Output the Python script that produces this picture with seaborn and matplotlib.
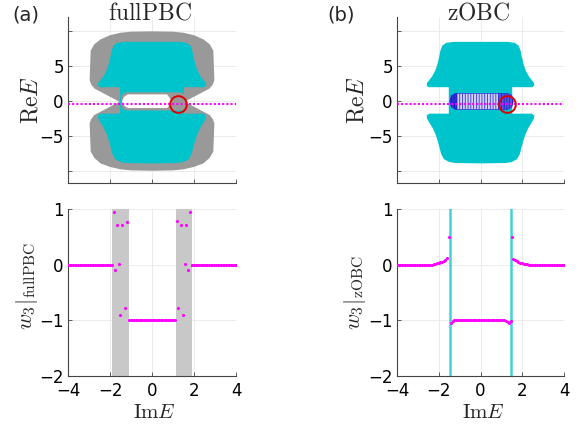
import numpy as np
import matplotlib
matplotlib.use("Agg")
import matplotlib.pyplot as plt
import seaborn as sns

# ---------------- data ----------------
# grey PBC spectral region, right half outline (top centre -> bottom centre)
pbc_im = [0.0, 1.0, 1.5, 2.0, 2.45, 2.75, 2.92, 2.97, 2.9, 2.75, 1.55,
          2.75, 2.9, 2.97, 2.92, 2.75, 2.45, 2.0, 1.5, 1.0, 0.0]
pbc_re = [9.95, 9.9, 9.75, 9.4, 8.8, 8.1, 7.2, 3.0, 2.4, 1.8, -0.1,
          -2.0, -2.6, -3.2, -7.2, -8.1, -8.9, -9.4, -9.75, -9.9, -9.95]
# cyan zOBC spectral region, right half outline
obc_im = [0.0, 1.3, 1.65, 1.83, 1.92, 1.98, 2.06, 2.16, 2.3, 2.45, 2.56, 2.58, 2.5, 1.52,
          1.52, 2.45, 2.58, 2.56, 2.45, 2.3, 2.16, 2.05, 1.96, 1.88, 1.75, 1.5, 1.2, 0.0]
obc_re = [8.45, 8.45, 8.3, 7.9, 7.2, 6.3, 5.3, 4.4, 3.6, 3.0, 2.6, 2.25, 1.98, 1.98,
          -1.8, -1.8, -2.05, -2.5, -3.1, -3.8, -4.7, -5.7, -6.7, -7.6, -8.3, -8.7, -8.85, -8.9]
# grey band around the central hole (panel a)
band_im = [-1.2, 1.35, 1.58, 1.67, 1.67, 1.58, 1.35, -1.2, -1.4, -1.46, -1.46, -1.4]
band_re = [1.25, 1.25, 1.0, 0.5, -0.8, -1.15, -1.35, -1.35, -1.1, -0.5, 0.4, 1.0]
# white hole (panel a)
hole_im = [-1.15, 0.72, 0.96, 0.72, -1.15, -1.33, -1.43, -1.33]
hole_re = [0.95, 0.95, -0.05, -1.0, -1.0, -0.65, -0.05, 0.6]
# blue hatched oval (panel b) and its darker caps
oval_im = [-1.2, 1.3, 1.5, 1.57, 1.5, 1.3, -1.2, -1.4, -1.47, -1.4]
oval_re = [1.1, 1.1, 0.8, -0.05, -0.85, -1.2, -1.2, -0.85, -0.05, 0.75]
capl_im = [-1.12, -1.2, -1.4, -1.47, -1.4, -1.2, -1.12]
capl_re = [1.1, 1.1, 0.75, -0.05, -0.85, -1.2, -1.2]
capr_im = [0.85, 1.3, 1.5, 1.57, 1.5, 1.3, 0.85]
capr_re = [1.1, 1.1, 0.8, -0.05, -0.85, -1.2, -1.2]

cut_re = -0.4                 # magenta dotted cut
circle_im, circle_re = 1.25, -0.4

# winding number, fullPBC
a_zero_l_im = np.linspace(-4.0, -2.0, 26)
a_zero_r_im = np.linspace(1.92, 4.0, 27)
a_mid_im = np.linspace(-1.1, 1.08, 28)
a_scat_im = [-1.907, -1.827, -1.747, -1.667, -1.587, -1.507, -1.426, -1.266, -1.202,
             1.17, 1.25, 1.39, 1.49, 1.57, 1.63, 1.73, 1.83, 1.89]
a_scat_w = [-0.01, 0.946, -0.09, 0.713, 0.018, -0.91, 0.713, -0.78, 0.772,
            0.778, -0.78, 0.713, -0.91, 0.018, 0.713, -0.09, 0.946, 0.0]
a_bands = [(-1.9, -1.1), (1.12, 1.89)]

# winding number, zOBC
b_zero_l_im = np.linspace(-4.0, -2.32, 22)
b_zero_r_im = np.linspace(2.3, 4.0, 22)
b_mid_im = np.linspace(-1.26, 1.14, 31)
b_edge_im = [-2.24, -2.16, -2.08, -2.0, -1.92, -1.84, -1.76, -1.68, -1.6, -1.5,
             -1.42, -1.34, 1.22, 1.30, 1.38, 1.46,
             1.5, 1.58, 1.66, 1.74, 1.82, 1.9, 1.98, 2.06, 2.14, 2.22]
b_edge_w = [0.01, 0.015, 0.025, 0.03, 0.04, 0.055, 0.07, 0.09, 0.12, 0.5,
            -1.04, -1.015, -1.02, -1.035, -1.05, -1.02,
            0.5, 0.11, 0.08, 0.06, 0.045, 0.035, 0.025, 0.02, 0.012, 0.008]
b_lines = [-1.47, 1.47]

# ---------------- style ----------------
sns.set_theme(style="ticks")
plt.rcParams["font.family"] = ["DejaVu Sans"]
plt.rcParams["mathtext.fontset"] = "cm"
plt.rcParams["hatch.linewidth"] = 0.6

GREY = "#999999"
CYAN = "#00C4CC"
MAG = "#ff00ff"
TICK = 12

fig = plt.figure(figsize=(5.8, 4.24), dpi=100)
W, H = 580, 424


def add_ax(left, top, right, bottom):
    return fig.add_axes([left / W, 1 - bottom / H, (right - left) / W, (bottom - top) / H])


ax_a = add_ax(68, 17, 236, 183)
ax_b = add_ax(397, 17, 564, 183)
ax_c = add_ax(68, 209, 236, 376)
ax_d = add_ax(397, 209, 564, 376)


def mirror(xs, ys):
    xs = np.asarray(xs, float)
    ys = np.asarray(ys, float)
    return np.concatenate([xs, -xs[::-1]]), np.concatenate([ys, ys[::-1]])


pbc_x, pbc_y = mirror(pbc_im, pbc_re)
obc_x, obc_y = mirror(obc_im, obc_re)


def style_ax(ax, top):
    ax.set_xlim(-4, 4)
    ax.set_xticks([-4, -2, 0, 2, 4])
    if top:
        ax.set_ylim(-11.7, 12)
        ax.set_yticks([-10, -5, 0, 5, 10])
        ax.set_yticklabels(["", "\u22125", "0", "5", ""])
        ax.set_xticklabels([])
    else:
        ax.set_ylim(-2, 1)
        ax.set_yticks([-2, -1, 0, 1])
        ax.set_yticklabels(["\u22122", "\u22121", "0", "1"])
        ax.set_xticklabels(["\u22124", "\u22122", "0", "2", "4"])
    ax.grid(True, color="#e8e8e8", lw=0.6)
    ax.set_axisbelow(True)
    for s in ["top", "right"]:
        ax.spines[s].set_visible(False)
    for s in ["left", "bottom"]:
        ax.spines[s].set_color("#444444")
        ax.spines[s].set_linewidth(0.8)
    ax.tick_params(direction="in", length=3, width=0.6, labelsize=TICK,
                   colors="#444444", labelcolor="black", pad=3)
    ax.tick_params(axis="x", pad=4)


# panel (a) top
ax_a.fill(pbc_x, pbc_y, color=GREY, lw=0, zorder=1)
ax_a.fill(obc_x, obc_y, color=CYAN, lw=0, zorder=2)
ax_a.fill(band_im, band_re, color=GREY, lw=0, zorder=3)
ax_a.fill(hole_im, hole_re, color="white", lw=0, zorder=4)

# panel (b) top
ax_b.fill(obc_x, obc_y, color=CYAN, lw=0, zorder=2)
ax_b.fill(oval_im, oval_re, facecolor="#d4d4f6", edgecolor="#3030dd",
          hatch="||||||", lw=0.5, zorder=3)
ax_b.fill(capl_im, capl_re, color="#1414cc", alpha=0.85, lw=0, zorder=4)
ax_b.fill(capr_im, capr_re, color="#1414cc", alpha=0.65, lw=0, zorder=4)

for ax in (ax_a, ax_b):
    ax.axhline(cut_re, color=MAG, lw=1.5, ls=(0, (1, 1)), zorder=5)
    ax.plot([circle_im], [circle_re], marker="o", ms=12, mfc="none",
            mec="#e00000", mew=1.4, zorder=6)
    style_ax(ax, True)

# panel (a) bottom
for lo, hi in a_bands:
    ax_c.axvspan(lo, hi, color="#c8c8c8", lw=0, zorder=1)
a_im = np.concatenate([a_zero_l_im, a_scat_im, a_mid_im, a_zero_r_im])
a_w = np.concatenate([np.zeros_like(a_zero_l_im), a_scat_w,
                      -np.ones_like(a_mid_im), np.zeros_like(a_zero_r_im)])
sns.scatterplot(x=a_im, y=a_w, ax=ax_c, color=MAG, s=5, linewidth=0, zorder=3)
style_ax(ax_c, False)

# panel (b) bottom
for xv in b_lines:
    ax_d.axvline(xv, color=CYAN, lw=1.8, alpha=0.75, zorder=2)
b_im = np.concatenate([b_zero_l_im, b_edge_im, b_mid_im, b_zero_r_im])
b_w = np.concatenate([np.zeros_like(b_zero_l_im), b_edge_w,
                      -np.ones_like(b_mid_im), np.zeros_like(b_zero_r_im)])
sns.scatterplot(x=b_im, y=b_w, ax=ax_d, color=MAG, s=5, linewidth=0, zorder=3)
style_ax(ax_d, False)

# text
def ftext(px, py, s, **kw):
    fig.text(px / W, 1 - py / H, s, ha="center", va="center", **kw)

ftext(26, 15, "(a)", fontsize=14)
ftext(341, 15, "(b)", fontsize=14)
ftext(150, 13, r"$\mathrm{fullPBC}$", fontsize=17)
ftext(479, 13, r"$\mathrm{zOBC}$", fontsize=17)
ftext(30, 100, r"$\mathrm{Re}E$", fontsize=17, rotation=90)
ftext(357, 100, r"$\mathrm{Re}E$", fontsize=17, rotation=90)
ftext(27, 286, r"$w_3|_{\mathrm{fullPBC}}$", fontsize=16, rotation=90)
ftext(355, 293, r"$w_3|_{\mathrm{zOBC}}$", fontsize=16, rotation=90)
ftext(154, 412, r"$\mathrm{Im}E$", fontsize=15)
ftext(483, 412, r"$\mathrm{Im}E$", fontsize=15)

fig.savefig("out.png", dpi=100)
